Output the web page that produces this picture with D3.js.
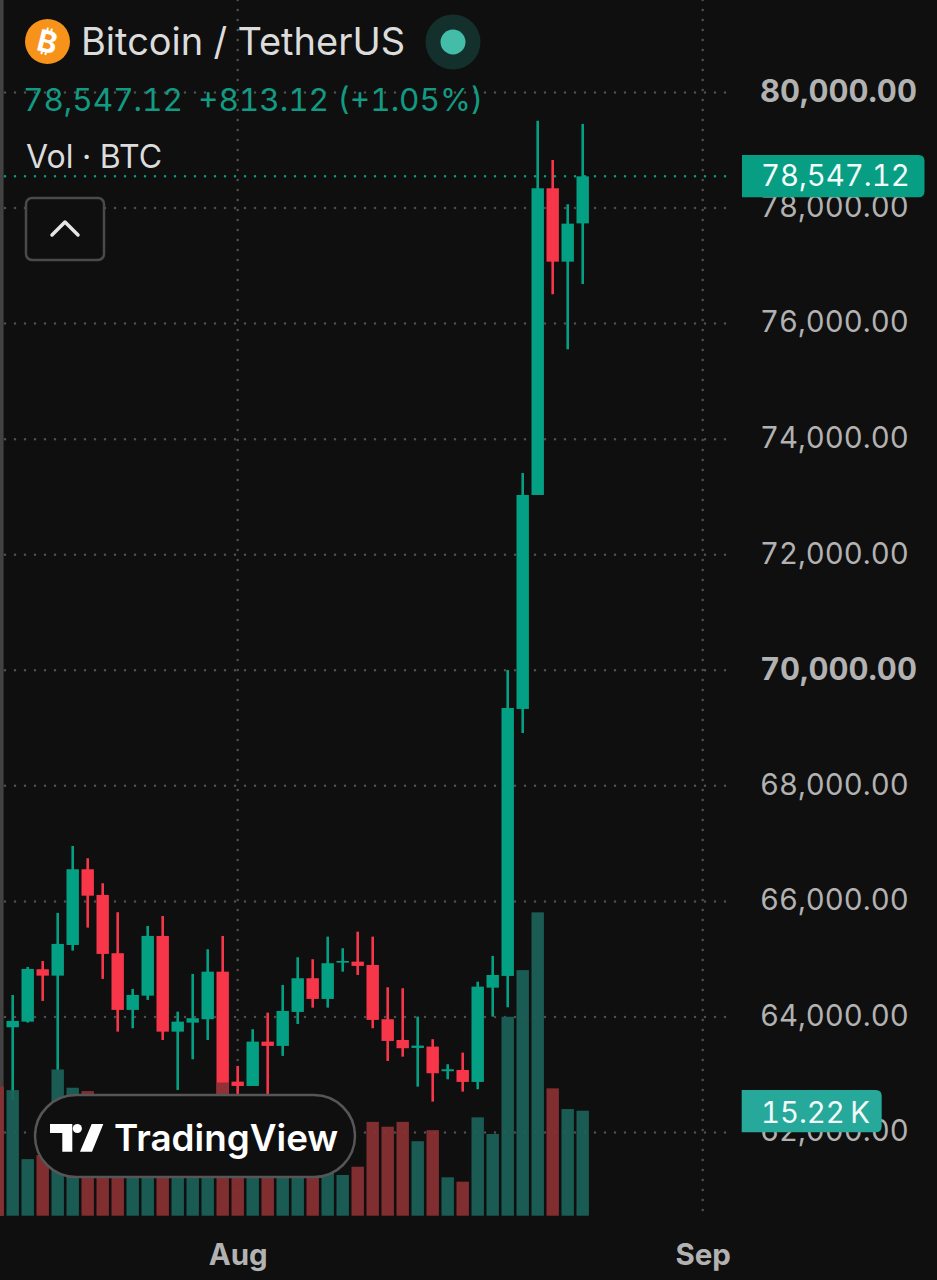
<!DOCTYPE html>
<html>
<head>
<meta charset="utf-8">
<script src="https://cdn.jsdelivr.net/npm/d3@7"></script>
<style>
  html, body { margin: 0; padding: 0; background: #0f0f0f; }
  svg { display: block; }
  text { font-family: Inter, "Noto Sans", sans-serif; font-variant-numeric: tabular-nums; font-feature-settings: "tnum"; }
</style>
</head>
<body>
<svg class="chart"></svg>
<script>
var firstDay = "2024-07-16";
var monthTicks = ["2024-08-01", "2024-09-01"];
var priceTicks = [80000, 78000, 76000, 74000, 72000, 70000, 68000, 66000, 64000, 62000];
var boldTicks = [80000, 70000];

// candles start one day after the first volume bar, that day is off screen
var opens = [63823, 63920, 64827, 64716, 65247, 66557, 66113, 65104, 64123, 64370,
  65403, 63747, 63903, 63962, 64785, 62882, 62807, 63574, 63500, 64088,
  64671, 64313, 64941, 64958, 64901, 63962, 63603, 63465, 63488, 63062,
  63084, 62877, 64508, 64711, 69331, 73034, 78341, 77071, 77734];
var highs = [64382, 64867, 64970, 65801, 66960, 66748, 66315, 65813, 64486, 65576,
  65749, 64093, 64746, 65173, 65403, 63154, 63789, 64076, 64555, 65034,
  65000, 65391, 65190, 65477, 65391, 64515, 64498, 64007, 63616, 63183,
  63384, 64612, 65057, 70006, 73415, 79511, 78831, 78064, 79454];
var lows = [62565, 63903, 64278, 63084, 65149, 65547, 64659, 63747, 63806, 64296,
  63603, 62738, 63269, 63603, 62500, 62565, 62807, 62634, 63327, 63880,
  64162, 64162, 64785, 64728, 63806, 63240, 63314, 62795, 62536, 62923,
  62709, 62750, 64007, 64169, 68916, 73034, 76507, 75555, 76685];
var closes = [63932, 64832, 64716, 65265, 66557, 66100, 65092, 64123, 64382, 65403,
  63747, 63920, 63979, 64785, 62640, 62807, 63574, 63500, 64105, 64671,
  64313, 64931, 64970, 64884, 63950, 63586, 63460, 63505, 63027, 63096,
  62877, 64526, 64728, 69348, 73034, 78341, 77071, 77729, 78547.12];
// volume in thousands of BTC
var volumes = [18.7, 18.2, 8.2, 8.8, 21.2, 18.55, 18.07, 12.5, 11, 9, 10,
  12, 9, 8, 10, 19.3, 13, 9.5, 11, 8, 7.5,
  9, 6.5, 5.9, 7.1, 13.6, 12.9, 13.6, 10.8, 12.4, 5.57,
  4.93, 14.26, 11.84, 28.84, 35.6, 43.97, 18.46, 15.46, 15.22];

var lastPrice = 78547.12;
var lastVolume = 15.22;

var colors = {bg: "#0f0f0f", green: "#04a084", red: "#f7364a", volGreen: "#1b6259",
  volRed: "#8a3034", grid: "#505050", axis: "#b2b2b2"};

var width = 937, height = 1280;
var svg = d3.select(".chart").attr("width", width).attr("height", height);
svg.append("rect").attr("width", width).attr("height", height).attr("fill", colors.bg);

var day = function(s){ return new Date(s + "T00:00:00Z"); };
var volDays = volumes.map(function(v, i){ return d3.utcDay.offset(day(firstDay), i); });
var candleDays = volDays.slice(1);

var x = d3.scaleUtc().domain([day("2024-08-01"), day("2024-09-01")]).range([237.7, 702.7]);
var y = d3.scaleLinear().domain([62000, 80000]).range([1132.6, 92.4]);
var yVol = d3.scaleLinear().domain([0, lastVolume]).range([1215.7, 1110.7]);
var barW = 12.4;

// left edge
svg.append("rect").attr("x", 0).attr("y", 0).attr("width", 3.6).attr("height", 1216).attr("fill", "#424242");

// grid
var grid = svg.append("g").attr("fill", "none").attr("stroke", colors.grid)
  .attr("stroke-width", 2.5).attr("stroke-linecap", "round").attr("stroke-dasharray", "0 10");
grid.selectAll(".h").data(priceTicks).enter().append("line").attr("class", "h")
  .attr("x1", 5).attr("x2", 735).attr("y1", y).attr("y2", y);
grid.selectAll(".v").data(monthTicks).enter().append("line").attr("class", "v")
  .attr("x1", function(d){ return x(day(d)); }).attr("x2", function(d){ return x(day(d)); })
  .attr("y1", 0).attr("y2", 1212);

// last price line
svg.append("line").attr("x1", 5).attr("x2", 735).attr("y1", y(lastPrice)).attr("y2", y(lastPrice))
  .attr("stroke", colors.green).attr("stroke-width", 2.5).attr("stroke-linecap", "round")
  .attr("stroke-dasharray", "0 10");

// price axis
var yAxis = svg.append("g").attr("transform", "translate(752,0)")
  .call(d3.axisRight(y).tickValues(priceTicks).tickSize(0).tickPadding(8)
    .tickFormat(d3.format(",.2f")));
yAxis.select(".domain").remove();
yAxis.selectAll("text")
  .attr("fill", colors.axis)
  .attr("dy", "0.32em")
  .attr("transform", "translate(0,-1)")
  .attr("font-size", function(d){ return boldTicks.indexOf(d) >= 0 ? "31px" : "29.3px"; })
  .attr("font-weight", function(d){ return boldTicks.indexOf(d) >= 0 ? 700 : 400; });

// time axis
var xAxis = svg.append("g").attr("transform", "translate(0,1241)")
  .call(d3.axisBottom(x).tickValues(monthTicks.map(day)).tickSize(0).tickPadding(0)
    .tickFormat(d3.utcFormat("%b")));
xAxis.select(".domain").remove();
xAxis.selectAll("text").attr("fill", colors.axis).attr("font-size", "29.5px")
  .attr("font-weight", 700).attr("dy", "0.8em");

// candles
var candle = svg.append("g").selectAll("g").data(candleDays).enter().append("g");
function candleColor(d, i){ return closes[i] >= opens[i] ? colors.green : colors.red; }
candle.append("line")
  .attr("x1", function(d){ return x(d); }).attr("x2", function(d){ return x(d); })
  .attr("y1", function(d, i){ return y(highs[i]); })
  .attr("y2", function(d, i){ return y(lows[i]); })
  .attr("stroke", candleColor).attr("stroke-width", 2.6);
candle.append("rect")
  .attr("x", function(d){ return x(d) - barW / 2; })
  .attr("width", barW)
  .attr("y", function(d, i){ return y(Math.max(opens[i], closes[i])); })
  .attr("height", function(d, i){ return Math.abs(y(opens[i]) - y(closes[i])); })
  .attr("fill", candleColor);

// volume, the first bar has no visible candle: it closed down
svg.append("g").selectAll("rect").data(volumes).enter().append("rect")
  .attr("x", function(d, i){ return x(volDays[i]) - barW / 2; })
  .attr("width", barW)
  .attr("y", function(d){ return yVol(d); })
  .attr("height", function(d){ return yVol(0) - yVol(d); })
  .attr("fill", function(d, i){
    if(i == 0) return colors.volRed;
    return closes[i-1] >= opens[i-1] ? colors.volGreen : colors.volRed;
  })
  .attr("opacity", 0.93);

// price tags
function tagPath(x0, x1, y0, y1, r){
  return "M" + x0 + "," + y0 + "H" + (x1 - r) + "Q" + x1 + "," + y0 + " " + x1 + "," + (y0 + r) +
    "V" + (y1 - r) + "Q" + x1 + "," + y1 + " " + (x1 - r) + "," + y1 + "H" + x0 + "Z";
}
svg.append("path").attr("d", tagPath(742, 924.5, 155, 197.3, 6)).attr("fill", "#089e84");
svg.append("text").attr("x", 761).attr("y", 186).attr("fill", "#f2fbf9")
  .attr("font-size", "29.3px").text(d3.format(",.2f")(lastPrice));
svg.append("path").attr("d", tagPath(741.7, 881.7, 1090, 1132.3, 6)).attr("fill", "#26a99a");
svg.append("text").attr("x", 761).attr("y", 1123).attr("fill", "#f2fbf9")
  .attr("font-size", "29.3px").text(d3.format(".2f")(lastVolume) + "\u2009K");

// header
svg.append("circle").attr("cx", 47.5).attr("cy", 41.5).attr("r", 22.5).attr("fill", "#f7931a");
svg.append("text").attr("x", 47.5).attr("y", 52.5).attr("text-anchor", "middle").attr("fill", "#fff")
  .attr("font-family", "DejaVu Sans").attr("font-weight", 700).attr("font-size", "30px")
  .attr("transform", "rotate(14,47.5,41.5)").text("\u20bf");
svg.append("text").attr("x", 81).attr("y", 55).attr("fill", "#dcdcdc").attr("font-size", "38px")
  .text("Bitcoin / TetherUS");
svg.append("circle").attr("cx", 453).attr("cy", 42).attr("r", 27.5).attr("fill", "#14302c");
svg.append("circle").attr("cx", 453).attr("cy", 42).attr("r", 12.5).attr("fill", "#43bda8");
svg.append("text").attr("x", 23).attr("y", 111).attr("fill", "#139a83").attr("font-size", "31.5px")
  .text("78,547.12");
svg.append("text").attr("x", 198).attr("y", 111).attr("fill", "#139a83").attr("font-size", "31.5px")
  .text("+813.12 (+1.05%)");
svg.append("text").attr("x", 26).attr("y", 168).attr("fill", "#dcdcdc").attr("font-size", "32px")
  .text("Vol \u00b7 BTC");

// collapse button
svg.append("rect").attr("x", 26).attr("y", 198).attr("width", 78).attr("height", 62).attr("rx", 6)
  .attr("fill", colors.bg).attr("stroke", "#4a4a4a").attr("stroke-width", 2.5);
svg.append("path").attr("d", "M52,235L65,222L78,235").attr("fill", "none")
  .attr("stroke", "#e6e6e6").attr("stroke-width", 3.5).attr("stroke-linecap", "round")
  .attr("stroke-linejoin", "round");

// TradingView badge
svg.append("rect").attr("x", 35).attr("y", 1095).attr("width", 320).attr("height", 82).attr("rx", 41)
  .attr("fill", colors.bg).attr("stroke", "#565656").attr("stroke-width", 2.5);
svg.append("path").attr("d", "M50,1124H72.3V1151.7H62.3V1133H50ZM91.7,1124H103.3L92,1151.7H80Z").attr("fill", "#fff");
svg.append("circle").attr("cx", 77.3).attr("cy", 1128.5).attr("r", 4.6).attr("fill", "#fff");
svg.append("text").attr("x", 114).attr("y", 1151).attr("fill", "#fff").attr("font-size", "36.8px")
  .attr("font-weight", 600).text("TradingView");
</script>
</body>
</html>
